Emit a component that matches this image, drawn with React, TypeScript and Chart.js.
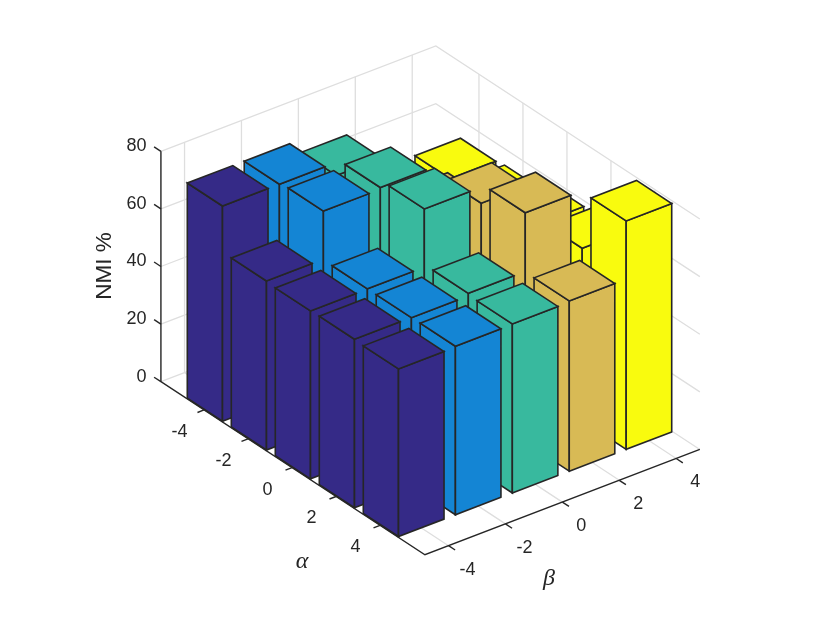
import React, { useEffect, useRef } from "react";
import { Chart, registerables } from "chart.js";

Chart.register(...registerables);

const alphaTicks = [-4, -2, 0, 2, 4];
const betaTicks = [-4, -2, 0, 2, 4];
const zTicks = [0, 20, 40, 60, 80];

// NMI % for each alpha (-4..4), one list per beta
const nmiBetaM4 = [74.7, 58.7, 58.3, 58.5, 58.2];
const nmiBetaM2 = [74.7, 75.4, 58.4, 58.4, 58.5];
const nmiBeta0 = [70.2, 76.0, 78.6, 59.3, 58.7];
const nmiBeta2 = [52.0, 59.5, 73.0, 79.7, 59.1];
const nmiBeta4 = [53.9, 54.6, 58.2, 59.8, 79.3];
const seriesByBeta = [nmiBetaM4, nmiBetaM2, nmiBeta0, nmiBeta2, nmiBeta4];
const barColors = ["#352A87", "#1485D4", "#38B99E", "#D8BA55", "#F9FB0E"];

const A_MIN = -5.96;
const A_MAX = 6.04;
const B_LIM = 4.83;
const Z_MAX = 80;
const HALF = 0.8;
const EDGE = "#262626";
const GRID = "#DEDEDE";

// Orthographic view of the (alpha, beta, z) box, expressed in the hidden x/y scales
function project(a: number, b: number, z: number) {
  return {
    x: 429.5 + 22 * a + 28.46 * b,
    y: 415 + 14.42 * a - 10.9 * b - 2.88 * z,
  };
}

type Pt = { x: number; y: number };
const polyline = (pts: Pt[], color: string, width: number) => ({
  data: pts,
  borderColor: color,
  borderWidth: width,
  backgroundColor: "transparent",
  fill: false,
  pointRadius: 0,
  tension: 0,
  borderCapStyle: "butt",
});
const face = (pts: Pt[], color: string) => ({
  data: [...pts, pts[0], pts[1]],
  borderColor: EDGE,
  borderWidth: 1.6,
  backgroundColor: color,
  fill: "shape",
  pointRadius: 0,
  tension: 0,
  borderJoinStyle: "miter",
});

function buildDatasets() {
  const out: any[] = [];
  for (const z of zTicks) {
    out.push(polyline([project(A_MIN, -B_LIM, z), project(A_MIN, B_LIM, z), project(A_MAX, B_LIM, z)], GRID, 1.3));
  }
  for (const b of betaTicks) {
    out.push(polyline([project(A_MIN, b, Z_MAX), project(A_MIN, b, 0), project(A_MAX, b, 0)], GRID, 1.3));
  }
  for (const a of alphaTicks) {
    out.push(polyline([project(a, B_LIM, Z_MAX), project(a, B_LIM, 0), project(a, -B_LIM, 0)], GRID, 1.3));
  }
  alphaTicks.forEach((a, i) => {
    for (let j = betaTicks.length - 1; j >= 0; j--) {
      const b = betaTicks[j];
      const h = seriesByBeta[j][i];
      const c = barColors[j];
      const l = a - HALF, r = a + HALF, lo = b - HALF, hi = b + HALF;
      out.push(face([project(l, lo, 0), project(r, lo, 0), project(r, lo, h), project(l, lo, h)], c));
      out.push(face([project(r, lo, 0), project(r, hi, 0), project(r, hi, h), project(r, lo, h)], c));
      out.push(face([project(l, lo, h), project(r, lo, h), project(r, hi, h), project(l, hi, h)], c));
    }
  });
  out.push(polyline([project(A_MIN, -B_LIM, Z_MAX), project(A_MIN, -B_LIM, 0), project(A_MAX, -B_LIM, 0), project(A_MAX, B_LIM, 0)], EDGE, 1.4));
  for (const a of alphaTicks) {
    out.push(polyline([project(a, -B_LIM, 0), project(a, -B_LIM - 0.23, 0)], EDGE, 1.4));
  }
  for (const b of betaTicks) {
    out.push(polyline([project(A_MAX, b, 0), project(A_MAX + 0.3, b, 0)], EDGE, 1.4));
  }
  for (const z of zTicks) {
    out.push(polyline([project(A_MIN, -B_LIM, z), project(A_MIN - 0.31, -B_LIM, z)], EDGE, 1.4));
  }
  // Chart.js paints the lowest index last, so reverse through "order"
  out.forEach((d, i) => { d.order = out.length - i; });
  return out;
}

const labelPlugin = {
  id: "boxLabels",
  afterDraw(chart: any) {
    const { ctx, scales } = chart;
    const px = (p: Pt) => ({ x: scales.x.getPixelForValue(p.x), y: scales.y.getPixelForValue(p.y) });
    ctx.save();
    ctx.fillStyle = EDGE;
    ctx.textBaseline = "middle";
    ctx.font = '18px "Liberation Sans", Arial, sans-serif';
    ctx.textAlign = "center";
    for (const a of alphaTicks) {
      const p = px(project(a, -B_LIM, 0));
      ctx.fillText(String(a), p.x - 24.5, p.y + 22);
    }
    for (const b of betaTicks) {
      const p = px(project(A_MAX, b, 0));
      ctx.fillText(String(b), p.x + 19, p.y + 24);
    }
    ctx.textAlign = "right";
    for (const z of zTicks) {
      const p = px(project(A_MIN, -B_LIM, z));
      ctx.fillText(String(z), p.x - 14.5, p.y - 5);
    }
    ctx.textAlign = "center";
    ctx.font = 'italic 24px "Liberation Serif", serif';
    ctx.fillText("α", 302, 562);
    ctx.fillText("β", 549, 579);
    ctx.translate(104.5, 266);
    ctx.rotate(-Math.PI / 2);
    ctx.font = '22.5px "Liberation Sans", Arial, sans-serif';
    ctx.fillText("NMI %", 0, 0);
    ctx.restore();
  },
};

export default function App() {
  const ref = useRef<HTMLCanvasElement>(null);
  useEffect(() => {
    const chart = new Chart(ref.current!, {
      type: "line",
      data: { datasets: buildDatasets() },
      options: {
        animation: false,
        responsive: false,
        events: [],
        layout: { padding: 0 },
        plugins: { legend: { display: false }, tooltip: { enabled: false } },
        scales: {
          x: { type: "linear", display: false, min: 0, max: 830 },
          y: { type: "linear", display: false, min: 0, max: 623, reverse: true },
        },
      },
      plugins: [labelPlugin],
    } as any);
    return () => chart.destroy();
  }, []);
  return (
    <canvas
      ref={ref}
      width={830}
      height={623}
      style={{ position: "absolute", left: 0, top: 0, width: 830, height: 623, background: "#fff" }}
    />
  );
}
